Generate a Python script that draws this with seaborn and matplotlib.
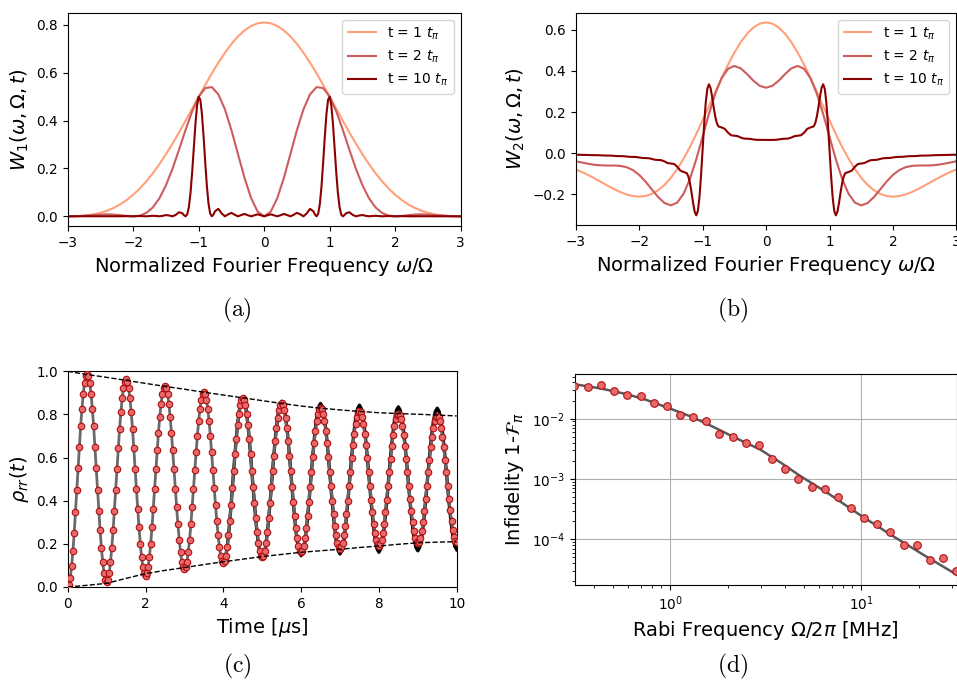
import numpy as np
import pandas as pd
import matplotlib
matplotlib.use("Agg")
import matplotlib.pyplot as plt
import seaborn as sns

plt.rcParams['font.family'] = ['DejaVu Sans']
plt.rcParams['mathtext.fontset'] = 'dejavusans'

# ---------------- data: panels (a) and (b) ----------------
labels = ['t = 1 $t_\\pi$', 't = 2 $t_\\pi$', 't = 10 $t_\\pi$']
colors = ['lightsalmon', 'indianred', 'darkred']

x_coarse = [-3.0, -2.9, -2.8, -2.7, -2.6, -2.5, -2.4, -2.3, -2.2, -2.1, -2.0, -1.9, -1.8, -1.7, -1.6,
            -1.5, -1.4, -1.3, -1.2, -1.1, -1.0, -0.9, -0.8, -0.7, -0.6, -0.5, -0.4, -0.3, -0.2, -0.1,
            0.0, 0.1, 0.2, 0.3, 0.4, 0.5, 0.6, 0.7, 0.8, 0.9, 1.0, 1.1, 1.2, 1.3, 1.4, 1.5, 1.6, 1.7,
            1.8, 1.9, 2.0, 2.1, 2.2, 2.3, 2.4, 2.5, 2.6, 2.7, 2.8, 2.9, 3.0]

x_fine = [-3.0, -2.95, -2.9, -2.85, -2.8, -2.75, -2.7, -2.65, -2.6, -2.55, -2.5, -2.45, -2.4, -2.35,
          -2.3, -2.25, -2.2, -2.15, -2.1, -2.05, -2.0, -1.95, -1.9, -1.85, -1.8, -1.75, -1.7, -1.65,
          -1.6, -1.55, -1.5, -1.45, -1.4, -1.35, -1.3, -1.25, -1.225, -1.2, -1.175, -1.15, -1.125,
          -1.1, -1.075, -1.05, -1.025, -1.0, -0.975, -0.95, -0.925, -0.9, -0.875, -0.85, -0.825,
          -0.8, -0.775, -0.75, -0.7, -0.65, -0.6, -0.55, -0.5, -0.45, -0.4, -0.35, -0.3, -0.25,
          -0.2, -0.15, -0.1, -0.05,
          0.0, 0.05, 0.1, 0.15, 0.2, 0.25, 0.3, 0.35, 0.4, 0.45, 0.5, 0.55, 0.6, 0.65, 0.7, 0.75,
          0.775, 0.8, 0.825, 0.85, 0.875, 0.9, 0.925, 0.95, 0.975, 1.0, 1.025, 1.05, 1.075, 1.1,
          1.125, 1.15, 1.175, 1.2, 1.225, 1.25, 1.3, 1.35, 1.4, 1.45, 1.5, 1.55, 1.6, 1.65, 1.7,
          1.75, 1.8, 1.85, 1.9, 1.95, 2.0, 2.05, 2.1, 2.15, 2.2, 2.25, 2.3, 2.35, 2.4, 2.45, 2.5,
          2.55, 2.6, 2.65, 2.7, 2.75, 2.8, 2.85, 2.9, 2.95, 3.0]

w1_t1 = [0.0, 0.0004, 0.0017, 0.0042, 0.0084, 0.0147, 0.0234, 0.0350, 0.0497, 0.0680, 0.0901, 0.1161,
         0.1461, 0.1801, 0.2180, 0.2594, 0.3039, 0.3509, 0.3998, 0.4498, 0.5000, 0.5494, 0.5972,
         0.6423, 0.6837, 0.7205, 0.7519, 0.7771, 0.7955, 0.8068, 0.8106, 0.8068, 0.7955, 0.7771,
         0.7519, 0.7205, 0.6837, 0.6423, 0.5972, 0.5494, 0.5000, 0.4498, 0.3998, 0.3509, 0.3039,
         0.2594, 0.2180, 0.1801, 0.1461, 0.1161, 0.0901, 0.0680, 0.0497, 0.0350, 0.0234, 0.0147,
         0.0084, 0.0042, 0.0017, 0.0004, 0.0]
w1_t2 = [0.0, 0.0004, 0.0015, 0.0034, 0.0055, 0.0074, 0.0081, 0.0072, 0.0047, 0.0017, 0.0, 0.0028,
         0.0140, 0.0371, 0.0753, 0.1297, 0.1989, 0.2786, 0.3616, 0.4388, 0.5000, 0.5360, 0.5402,
         0.5099, 0.4475, 0.3603, 0.2598, 0.1602, 0.0760, 0.0197, 0.0, 0.0197, 0.0760, 0.1602,
         0.2598, 0.3603, 0.4475, 0.5099, 0.5402, 0.5360, 0.5000, 0.4388, 0.3616, 0.2786, 0.1989,
         0.1297, 0.0753, 0.0371, 0.0140, 0.0028, 0.0, 0.0017, 0.0047, 0.0072, 0.0081, 0.0074,
         0.0055, 0.0034, 0.0015, 0.0004, 0.0]
w1_t10 = [0.0, 0.0001, 0.0001, 0.0001, 0.0, 0.0001, 0.0002, 0.0001, 0.0, 0.0001, 0.0003, 0.0002,
          0.0, 0.0002, 0.0004, 0.0002, 0.0, 0.0003, 0.0007, 0.0004, 0.0, 0.0005, 0.0012, 0.0007,
          0.0, 0.0010, 0.0023, 0.0014, 0.0, 0.0021, 0.0052, 0.0033, 0.0, 0.0060, 0.0170, 0.0128,
          0.0047, 0.0, 0.0082, 0.0390, 0.0981, 0.1838, 0.2857, 0.3858, 0.4632, 0.5, 0.4869,
          0.4263, 0.3319, 0.2245, 0.1259, 0.0526, 0.0116, 0.0, 0.0074, 0.0212, 0.0312, 0.0122,
          0.0, 0.0083, 0.0144, 0.0064, 0.0, 0.0053, 0.0098, 0.0046, 0.0, 0.0042, 0.0083, 0.0041,
          0.0, 0.0041, 0.0083, 0.0042, 0.0, 0.0046, 0.0098, 0.0053, 0.0, 0.0064, 0.0144, 0.0083,
          0.0, 0.0122, 0.0312, 0.0212, 0.0074, 0.0, 0.0116, 0.0526, 0.1259, 0.2245, 0.3319,
          0.4263, 0.4869, 0.5, 0.4632, 0.3858, 0.2857, 0.1838, 0.0981, 0.0390, 0.0082, 0.0,
          0.0047, 0.0128, 0.0170, 0.0060, 0.0, 0.0033, 0.0052, 0.0021, 0.0, 0.0014, 0.0023,
          0.0010, 0.0, 0.0007, 0.0012, 0.0005, 0.0, 0.0004, 0.0007, 0.0003, 0.0, 0.0002, 0.0004,
          0.0002, 0.0, 0.0002, 0.0003, 0.0001, 0.0, 0.0001, 0.0002, 0.0001, 0.0, 0.0001, 0.0001,
          0.0001, 0.0]

w2_t1 = [-0.0796, -0.0925, -0.1073, -0.1236, -0.1407, -0.1580, -0.1746, -0.1894, -0.2013, -0.2093,
         -0.2122, -0.2090, -0.1987, -0.1808, -0.1547, -0.1202, -0.0776, -0.0273, 0.0297, 0.0924,
         0.1592, 0.2283, 0.2979, 0.3658, 0.4301, 0.4886, 0.5394, 0.5808, 0.6115, 0.6303, 0.6366,
         0.6303, 0.6115, 0.5808, 0.5394, 0.4886, 0.4301, 0.3658, 0.2979, 0.2283, 0.1592, 0.0924,
         0.0297, -0.0273, -0.0776, -0.1202, -0.1547, -0.1808, -0.1987, -0.2090, -0.2122, -0.2093,
         -0.2013, -0.1894, -0.1746, -0.1580, -0.1407, -0.1236, -0.1073, -0.0925, -0.0796]
w2_t2 = [-0.0398, -0.0461, -0.0523, -0.0572, -0.0599, -0.0606, -0.0606, -0.0622, -0.0685, -0.0826,
         -0.1061, -0.1386, -0.1767, -0.2143, -0.2432, -0.2546, -0.2411, -0.1982, -0.1261, -0.0302,
         0.0796, 0.1906, 0.2894, 0.3648, 0.4101, 0.4244, 0.4127, 0.3847, 0.3525, 0.3276, 0.3183,
         0.3276, 0.3525, 0.3847, 0.4127, 0.4244, 0.4101, 0.3648, 0.2894, 0.1906, 0.0796, -0.0302,
         -0.1261, -0.1982, -0.2411, -0.2546, -0.2432, -0.2143, -0.1767, -0.1386, -0.1061, -0.0826,
         -0.0685, -0.0622, -0.0606, -0.0606, -0.0599, -0.0572, -0.0523, -0.0461, -0.0398]
w2_t10 = [-0.0080, -0.0085, -0.0086, -0.0087, -0.0093, -0.0100, -0.0101, -0.0103, -0.0111, -0.0119,
          -0.0121, -0.0123, -0.0134, -0.0145, -0.0148, -0.0151, -0.0166, -0.0182, -0.0187, -0.0191,
          -0.0212, -0.0237, -0.0244, -0.0250, -0.0284, -0.0325, -0.0337, -0.0347, -0.0408, -0.0486,
          -0.0509, -0.0529, -0.0663, -0.0855, -0.0923, -0.0972, -0.1132, -0.1447, -0.1905, -0.2422,
          -0.2854, -0.3032, -0.2819, -0.2160, -0.1114, 0.0159, 0.1432, 0.2479, 0.3138, 0.3351,
          0.3173, 0.2741, 0.2225, 0.1768, 0.1455, 0.1296, 0.1248, 0.1181, 0.0995, 0.0867, 0.0849,
          0.0827, 0.0758, 0.0707, 0.0700, 0.0691, 0.0663, 0.0645, 0.0643, 0.0640,
          0.0637, 0.0640, 0.0643, 0.0645, 0.0663, 0.0691, 0.0700, 0.0707, 0.0758, 0.0827, 0.0849,
          0.0867, 0.0995, 0.1181, 0.1248, 0.1296, 0.1455, 0.1768, 0.2225, 0.2741, 0.3173, 0.3351,
          0.3138, 0.2479, 0.1432, 0.0159, -0.1114, -0.2160, -0.2819, -0.3032, -0.2854, -0.2422,
          -0.1905, -0.1447, -0.1132, -0.0972, -0.0923, -0.0855, -0.0663, -0.0529, -0.0509, -0.0486,
          -0.0408, -0.0347, -0.0337, -0.0325, -0.0284, -0.0250, -0.0244, -0.0237, -0.0212, -0.0191,
          -0.0187, -0.0182, -0.0166, -0.0151, -0.0148, -0.0145, -0.0134, -0.0123, -0.0121, -0.0119,
          -0.0111, -0.0103, -0.0101, -0.0100, -0.0093, -0.0087, -0.0086, -0.0085, -0.0080]

# ---------------- data: panel (c) ----------------
t_meas = [
    0.0, 0.033, 0.067, 0.1, 0.133, 0.167, 0.2, 0.233, 0.267, 0.3, 0.333, 0.367, 0.4, 0.433, 0.467, 0.5, 0.533, 0.567, 0.6, 0.633, 0.667, 0.7, 0.733, 0.767, 0.8, 0.833, 0.867, 0.9, 0.933, 0.967,
    1.0, 1.033, 1.067, 1.1, 1.133, 1.167, 1.2, 1.233, 1.267, 1.3, 1.333, 1.367, 1.4, 1.433, 1.467, 1.5, 1.533, 1.567, 1.6, 1.633, 1.667, 1.7, 1.733, 1.767, 1.8, 1.833, 1.867, 1.9, 1.933, 1.967,
    2.0, 2.033, 2.067, 2.1, 2.133, 2.167, 2.2, 2.233, 2.267, 2.3, 2.333, 2.367, 2.4, 2.433, 2.467, 2.5, 2.533, 2.567, 2.6, 2.633, 2.667, 2.7, 2.733, 2.767, 2.8, 2.833, 2.867, 2.9, 2.933, 2.967,
    3.0, 3.033, 3.067, 3.1, 3.133, 3.167, 3.2, 3.233, 3.267, 3.3, 3.333, 3.367, 3.4, 3.433, 3.467, 3.5, 3.533, 3.567, 3.6, 3.633, 3.667, 3.7, 3.733, 3.767, 3.8, 3.833, 3.867, 3.9, 3.933, 3.967,
    4.0, 4.033, 4.067, 4.1, 4.133, 4.167, 4.2, 4.233, 4.267, 4.3, 4.333, 4.367, 4.4, 4.433, 4.467, 4.5, 4.533, 4.567, 4.6, 4.633, 4.667, 4.7, 4.733, 4.767, 4.8, 4.833, 4.867, 4.9, 4.933, 4.967,
    5.0, 5.033, 5.067, 5.1, 5.133, 5.167, 5.2, 5.233, 5.267, 5.3, 5.333, 5.367, 5.4, 5.433, 5.467, 5.5, 5.533, 5.567, 5.6, 5.633, 5.667, 5.7, 5.733, 5.767, 5.8, 5.833, 5.867, 5.9, 5.933, 5.967,
    6.0, 6.033, 6.067, 6.1, 6.133, 6.167, 6.2, 6.233, 6.267, 6.3, 6.333, 6.367, 6.4, 6.433, 6.467, 6.5, 6.533, 6.567, 6.6, 6.633, 6.667, 6.7, 6.733, 6.767, 6.8, 6.833, 6.867, 6.9, 6.933, 6.967,
    7.0, 7.033, 7.067, 7.1, 7.133, 7.167, 7.2, 7.233, 7.267, 7.3, 7.333, 7.367, 7.4, 7.433, 7.467, 7.5, 7.533, 7.567, 7.6, 7.633, 7.667, 7.7, 7.733, 7.767, 7.8, 7.833, 7.867, 7.9, 7.933, 7.967,
    8.0, 8.033, 8.067, 8.1, 8.133, 8.167, 8.2, 8.233, 8.267, 8.3, 8.333, 8.367, 8.4, 8.433, 8.467, 8.5, 8.533, 8.567, 8.6, 8.633, 8.667, 8.7, 8.733, 8.767, 8.8, 8.833, 8.867, 8.9, 8.933, 8.967,
    9.0, 9.033, 9.067, 9.1, 9.133, 9.167, 9.2, 9.233, 9.267, 9.3, 9.333, 9.367, 9.4, 9.433, 9.467, 9.5, 9.533, 9.567, 9.6, 9.633, 9.667, 9.7, 9.733, 9.767, 9.8, 9.833, 9.867, 9.9, 9.933, 9.967,
    10.0]
rho_meas = [
    0.0, 0.011, 0.043, 0.096, 0.165, 0.25, 0.346, 0.448, 0.551, 0.651, 0.745, 0.827, 0.896, 0.947, 0.978, 0.989, 0.978, 0.947, 0.896, 0.827, 0.745, 0.651, 0.551, 0.450, 0.353, 0.262, 0.182, 0.115, 0.065, 0.034,
    0.024, 0.034, 0.065, 0.115, 0.182, 0.262, 0.353, 0.450, 0.548, 0.643, 0.731, 0.809, 0.874, 0.922, 0.952, 0.962, 0.952, 0.922, 0.874, 0.809, 0.731, 0.643, 0.548, 0.453, 0.362, 0.277, 0.201, 0.138, 0.092, 0.063,
    0.053, 0.063, 0.092, 0.138, 0.201, 0.277, 0.362, 0.453, 0.545, 0.634, 0.716, 0.789, 0.850, 0.895, 0.923, 0.932, 0.923, 0.895, 0.850, 0.789, 0.716, 0.634, 0.545, 0.456, 0.371, 0.291, 0.220, 0.162, 0.118, 0.091,
    0.082, 0.091, 0.118, 0.162, 0.220, 0.291, 0.371, 0.456, 0.542, 0.625, 0.702, 0.770, 0.827, 0.869, 0.895, 0.904, 0.895, 0.869, 0.827, 0.770, 0.702, 0.625, 0.542, 0.459, 0.380, 0.305, 0.239, 0.185, 0.144, 0.119,
    0.110, 0.119, 0.144, 0.185, 0.239, 0.305, 0.380, 0.459, 0.539, 0.616, 0.688, 0.752, 0.804, 0.844, 0.868, 0.876, 0.868, 0.844, 0.804, 0.752, 0.688, 0.616, 0.539, 0.462, 0.388, 0.319, 0.257, 0.206, 0.168, 0.145,
    0.137, 0.145, 0.168, 0.206, 0.257, 0.319, 0.388, 0.462, 0.537, 0.609, 0.676, 0.735, 0.784, 0.821, 0.843, 0.851, 0.843, 0.821, 0.784, 0.735, 0.676, 0.609, 0.537, 0.465, 0.395, 0.330, 0.273, 0.225, 0.189, 0.167,
    0.160, 0.167, 0.189, 0.225, 0.273, 0.330, 0.395, 0.465, 0.535, 0.602, 0.666, 0.722, 0.768, 0.802, 0.824, 0.831, 0.824, 0.802, 0.768, 0.722, 0.666, 0.602, 0.535, 0.466, 0.400, 0.339, 0.284, 0.239, 0.205, 0.184,
    0.177, 0.184, 0.205, 0.239, 0.284, 0.339, 0.400, 0.466, 0.533, 0.598, 0.658, 0.711, 0.756, 0.789, 0.809, 0.816, 0.809, 0.789, 0.756, 0.711, 0.658, 0.598, 0.533, 0.468, 0.405, 0.346, 0.293, 0.250, 0.218, 0.198,
    0.191, 0.198, 0.218, 0.250, 0.293, 0.346, 0.405, 0.468, 0.532, 0.594, 0.652, 0.703, 0.745, 0.777, 0.796, 0.803, 0.796, 0.777, 0.745, 0.703, 0.652, 0.594, 0.532, 0.469, 0.408, 0.351, 0.301, 0.259, 0.228, 0.209,
    0.202, 0.209, 0.228, 0.259, 0.301, 0.351, 0.408, 0.469, 0.531, 0.591, 0.647, 0.697, 0.738, 0.769, 0.788, 0.794, 0.788, 0.769, 0.738, 0.697, 0.647, 0.591, 0.531, 0.470, 0.410, 0.355, 0.305, 0.265, 0.234, 0.215,
    0.209]

t_band = [
    4.0, 4.05, 4.1, 4.15, 4.2, 4.25, 4.3, 4.35, 4.4, 4.45, 4.5, 4.55, 4.6, 4.65, 4.7, 4.75, 4.8, 4.85, 4.9, 4.95,
    5.0, 5.05, 5.1, 5.15, 5.2, 5.25, 5.3, 5.35, 5.4, 5.45, 5.5, 5.55, 5.6, 5.65, 5.7, 5.75, 5.8, 5.85, 5.9, 5.95,
    6.0, 6.05, 6.1, 6.15, 6.2, 6.25, 6.3, 6.35, 6.4, 6.45, 6.5, 6.55, 6.6, 6.65, 6.7, 6.75, 6.8, 6.85, 6.9, 6.95,
    7.0, 7.05, 7.1, 7.15, 7.2, 7.25, 7.3, 7.35, 7.4, 7.45, 7.5, 7.55, 7.6, 7.65, 7.7, 7.75, 7.8, 7.85, 7.9, 7.95,
    8.0, 8.05, 8.1, 8.15, 8.2, 8.25, 8.3, 8.35, 8.4, 8.45, 8.5, 8.55, 8.6, 8.65, 8.7, 8.75, 8.8, 8.85, 8.9, 8.95,
    9.0, 9.05, 9.1, 9.15, 9.2, 9.25, 9.3, 9.35, 9.4, 9.45, 9.5, 9.55, 9.6, 9.65, 9.7, 9.75, 9.8, 9.85, 9.9, 9.95,
    10.0]
rho_band = [
    0.110, 0.129, 0.184, 0.271, 0.379, 0.5, 0.617, 0.722, 0.806, 0.859, 0.878, 0.859, 0.806, 0.722, 0.617, 0.5, 0.386, 0.284, 0.202, 0.150,
    0.132, 0.150, 0.202, 0.284, 0.386, 0.5, 0.612, 0.712, 0.792, 0.843, 0.861, 0.843, 0.792, 0.712, 0.612, 0.5, 0.390, 0.291, 0.213, 0.162,
    0.145, 0.162, 0.213, 0.291, 0.390, 0.5, 0.608, 0.706, 0.784, 0.834, 0.851, 0.834, 0.784, 0.706, 0.608, 0.5, 0.393, 0.296, 0.219, 0.170,
    0.153, 0.170, 0.219, 0.296, 0.393, 0.5, 0.606, 0.702, 0.777, 0.826, 0.843, 0.826, 0.777, 0.702, 0.606, 0.5, 0.395, 0.301, 0.226, 0.178,
    0.161, 0.178, 0.226, 0.301, 0.395, 0.5, 0.604, 0.697, 0.771, 0.819, 0.835, 0.819, 0.771, 0.697, 0.604, 0.5, 0.397, 0.305, 0.231, 0.184,
    0.168, 0.184, 0.231, 0.305, 0.397, 0.5, 0.602, 0.693, 0.766, 0.813, 0.829, 0.813, 0.766, 0.693, 0.602, 0.5, 0.399, 0.308, 0.235, 0.189,
    0.173]

t_env = [0.0, 0.5, 1.0, 1.5, 2.0, 2.5, 3.0, 3.5, 4.0, 4.5, 5.0, 5.5, 6.0, 6.5, 7.0, 7.5, 8.0, 8.5, 9.0,
         9.5, 10.0]
env_upper = [1.0, 0.985, 0.972, 0.958, 0.944, 0.930, 0.917, 0.903, 0.890, 0.877, 0.864, 0.851, 0.839,
             0.829, 0.821, 0.814, 0.808, 0.804, 0.801, 0.797, 0.793]
env_lower = [0.0, 0.008, 0.017, 0.040, 0.062, 0.077, 0.090, 0.104, 0.117, 0.129, 0.141, 0.151, 0.161,
             0.168, 0.175, 0.183, 0.190, 0.198, 0.205, 0.208, 0.210]

# ---------------- data: panel (d) ----------------
rabi_meas = [0.315, 0.373, 0.436, 0.509, 0.596, 0.700, 0.822, 0.962, 1.128, 1.318, 1.542, 1.811,
             2.128, 2.496, 2.919, 3.413, 4.009, 4.688, 5.506, 6.436, 7.557, 8.833, 10.33, 12.13,
             14.18, 16.66, 19.48, 22.86, 26.84, 31.26]
infid_meas = [0.0352, 0.0332, 0.0362, 0.0288, 0.0244, 0.0235, 0.0184, 0.0164, 0.01165, 0.0108,
              0.00927, 0.00564, 0.00503, 0.0039, 0.00361, 0.00211, 0.00147, 0.0010, 0.000728,
              0.00069, 0.000508, 0.000334, 0.000228, 0.000177, 0.000131, 8.15e-5, 8.05e-5,
              4.49e-5, 4.85e-5, 3.02e-5]
rabi_fit = [0.316, 0.43, 0.596, 0.75, 1.0, 1.29, 1.67, 2.2, 2.95, 3.8, 4.8, 6.6, 10.0, 14.6, 22.1, 31.6]
infid_fit = [0.0372, 0.0319, 0.0254, 0.0205, 0.0147, 0.0108, 0.0074, 0.0048, 0.0031, 0.00186,
             0.00112, 0.00060, 0.000246, 0.000114, 5.1e-5, 2.6e-5]

# ---------------- figure ----------------
W, H = 957, 683
fig = plt.figure(figsize=(W / 100, H / 100), dpi=100)

def box(l, r, t, b):
    return [l / W, 1 - b / H, (r - l) / W, (b - t) / H]

ax_a = fig.add_axes(box(67.7, 460.7, 12.7, 226.0))
ax_b = fig.add_axes(box(575.7, 956.4, 12.7, 225.0))
ax_c = fig.add_axes(box(67.7, 456.7, 371.3, 587.0))
ax_d = fig.add_axes(box(574.7, 956.7, 374.0, 584.7))

TICK = 9.8
LAB = 14
DOT_FACE = '#e8696b'
DOT_EDGE = '#b01010'

# (a)
for xs, ys, c, lab in [(x_coarse, w1_t1, colors[0], labels[0]),
                       (x_coarse, w1_t2, colors[1], labels[1]),
                       (x_fine, w1_t10, colors[2], labels[2])]:
    sns.lineplot(x=xs, y=ys, ax=ax_a, color=c, lw=1.5, label=lab)
ax_a.set_xlim(-3, 3)
ax_a.set_xticks([-3, -2, -1, 0, 1, 2, 3])
ax_a.set_yticks([0.0, 0.2, 0.4, 0.6, 0.8])
ax_a.set_xlabel('Normalized Fourier Frequency $\\omega/\\Omega$', fontsize=LAB)
ax_a.set_ylabel('$W_1(\\omega, \\Omega, t)$', fontsize=LAB)
ax_a.legend(loc='upper right', fontsize=10)

# (b)
for xs, ys, c, lab in [(x_coarse, w2_t1, colors[0], labels[0]),
                       (x_coarse, w2_t2, colors[1], labels[1]),
                       (x_fine, w2_t10, colors[2], labels[2])]:
    sns.lineplot(x=xs, y=ys, ax=ax_b, color=c, lw=1.5, label=lab)
ax_b.set_xlim(-3, 3)
ax_b.set_xticks([-3, -2, -1, 0, 1, 2, 3])
ax_b.set_yticks([-0.2, 0.0, 0.2, 0.4, 0.6])
ax_b.set_xlabel('Normalized Fourier Frequency $\\omega/\\Omega$', fontsize=LAB)
ax_b.set_ylabel('$W_2(\\omega, \\Omega, t)$', fontsize=LAB)
ax_b.legend(loc='upper right', fontsize=10)

# (c)
sns.lineplot(x=t_band, y=rho_band, ax=ax_c, color='black', lw=2.4, zorder=2)
sns.lineplot(x=t_meas, y=rho_meas, ax=ax_c, color='#6a6a6a', lw=2.0, zorder=3)
sns.scatterplot(x=t_meas, y=rho_meas, ax=ax_c, s=22, color=DOT_FACE, edgecolor=DOT_EDGE,
                linewidth=0.8, zorder=4)
sns.lineplot(x=t_env, y=env_upper, ax=ax_c, color='black', lw=1.0, linestyle='--', zorder=5)
sns.lineplot(x=t_env, y=env_lower, ax=ax_c, color='black', lw=1.0, linestyle='--', zorder=5)
ax_c.set_xlim(0, 10)
ax_c.set_ylim(0, 1)
ax_c.set_xticks([0, 2, 4, 6, 8, 10])
ax_c.set_yticks([0.0, 0.2, 0.4, 0.6, 0.8, 1.0])
ax_c.set_xlabel('Time [$\\mu$s]', fontsize=LAB)
ax_c.set_ylabel('$\\rho_{rr}(t)$', fontsize=LAB)

# (d)
ax_d.set_xscale('log')
ax_d.set_yscale('log')
sns.lineplot(x=rabi_fit, y=infid_fit, ax=ax_d, color='#5a5a5a', lw=1.8, zorder=3)
sns.scatterplot(x=rabi_meas, y=infid_meas, ax=ax_d, s=30, color=DOT_FACE, edgecolor=DOT_EDGE,
                linewidth=0.8, zorder=4)
ax_d.set_xlim(10 ** -0.5, 10 ** 1.5)
ax_d.set_ylim(1.77e-5, 0.0551)
ax_d.grid(True, which='major', color='#b0b0b0', lw=0.8)
ax_d.set_axisbelow(True)
ax_d.set_xlabel('Rabi Frequency $\\Omega/2\\pi$ [MHz]', fontsize=LAB)
ax_d.set_ylabel('Infidelity 1-$\\mathcal{F}_\\pi$', fontsize=LAB)

for ax in (ax_a, ax_b, ax_c, ax_d):
    ax.tick_params(labelsize=TICK)

for x, y, s in [(237, 310, '(a)'), (733, 310, '(b)'), (237, 666, '(c)'), (733, 666, '(d)')]:
    fig.text(x / W, 1 - y / H, '$\\mathrm{' + s + '}$', ha='center', va='center', fontsize=17,
             math_fontfamily='cm')

fig.savefig('out.png', dpi=100)
